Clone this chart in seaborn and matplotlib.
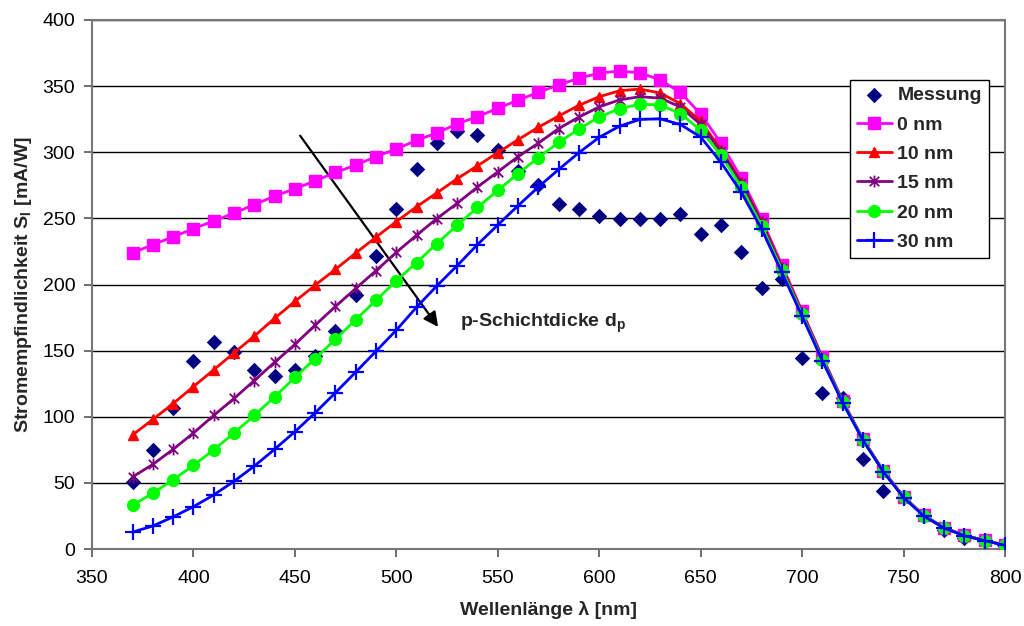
import matplotlib
matplotlib.use("Agg")
import matplotlib.pyplot as plt
from matplotlib.path import Path
import pandas as pd
import seaborn as sns

# Wavelength grid [nm]
wavelength = [370, 380, 390, 400, 410, 420, 430, 440, 450, 460, 470,
              480, 490, 500, 510, 520, 530, 540, 550, 560, 570, 580,
              590, 600, 610, 620, 630, 640, 650, 660, 670, 680, 690,
              700, 710, 720, 730, 740, 750, 760, 770, 780, 790, 800]

# Measured spectral responsivity [mA/W]
messung = [50.4, 74.7, 106.6, 142.0, 156.8, 148.8, 135.0, 131.0, 135.5, 146.3, 165.0,
           191.8, 221.7, 257.0, 287.7, 306.9, 315.9, 312.8, 301.8, 286.0, 274.9, 260.9,
           257.0, 251.9, 249.4, 249.9, 249.9, 253.2, 238.3, 244.9, 224.9, 197.4, 204.4,
           144.3, 117.9, 114.4, 68.3, 44.0, 39.0, 25.0, 14.0, 8.5, 6.0, 2.5]

# Simulated responsivity for different p-layer thicknesses
sim_0nm = [223.8, 230.2, 236.0, 242.2, 248.0, 254.0, 260.4, 266.8, 272.4, 278.3, 284.7,
           290.3, 296.7, 302.5, 309.0, 314.6, 321.5, 326.9, 333.2, 339.4, 345.3, 350.9,
           356.0, 359.8, 361.4, 360.1, 354.7, 345.3, 328.8, 307.0, 280.6, 249.3, 215.0,
           179.8, 145.2, 112.0, 83.0, 59.2, 39.6, 25.5, 16.1, 10.3, 6.5, 3.0]
sim_10nm = [86.2, 98.0, 110.0, 122.8, 135.5, 148.3, 161.0, 174.4, 187.2, 199.5, 211.5,
            223.8, 235.8, 247.6, 258.8, 269.3, 280.0, 289.8, 299.7, 309.5, 318.9, 327.4,
            335.5, 342.0, 346.5, 347.8, 344.8, 336.8, 323.5, 302.0, 277.7, 247.8, 213.5,
            179.0, 144.5, 111.8, 82.8, 59.0, 39.4, 25.4, 16.0, 10.2, 6.5, 2.9]
sim_15nm = [54.5, 64.0, 75.4, 87.7, 101.0, 113.8, 127.4, 141.2, 154.7, 169.3, 183.4,
            197.0, 210.5, 224.3, 237.3, 249.9, 261.4, 273.7, 285.2, 296.7, 306.9, 317.9,
            326.6, 334.3, 339.6, 342.0, 340.9, 334.3, 321.0, 300.6, 277.0, 247.2, 212.6,
            178.5, 144.0, 111.6, 82.7, 58.9, 39.3, 25.3, 16.0, 10.2, 6.4, 2.9]
sim_20nm = [33.2, 42.2, 52.4, 63.2, 75.0, 87.7, 101.0, 115.0, 129.7, 144.0, 158.6,
            173.4, 188.0, 202.8, 216.6, 231.0, 244.8, 258.3, 271.1, 283.9, 295.9, 307.4,
            317.6, 326.6, 333.0, 336.3, 335.8, 329.2, 316.7, 297.7, 273.6, 244.3, 211.1,
            177.4, 143.1, 111.4, 82.6, 58.7, 39.1, 25.1, 15.9, 10.1, 6.4, 2.9]
sim_30nm = [12.8, 17.4, 24.3, 32.0, 40.9, 51.2, 62.7, 75.4, 88.7, 103.0, 118.2,
            133.8, 149.6, 165.5, 182.9, 199.0, 214.3, 230.2, 245.0, 259.6, 273.7, 287.0,
            299.7, 311.3, 319.7, 324.8, 325.3, 321.0, 311.5, 292.4, 269.8, 242.0, 209.1,
            176.0, 142.2, 110.6, 82.2, 58.4, 38.9, 24.9, 15.8, 10.0, 6.3, 2.8]

x_ticks = [350, 400, 450, 500, 550, 600, 650, 700, 750, 800]
y_ticks = [0, 50, 100, 150, 200, 250, 300, 350, 400]

sns.set_theme(style="white")
plt.rcParams["font.family"] = ["Liberation Sans", "DejaVu Sans"]
plt.rcParams["mathtext.fontset"] = "custom"
plt.rcParams["mathtext.rm"] = "Liberation Sans"
plt.rcParams["mathtext.bf"] = "Liberation Sans:bold"
plt.rcParams["mathtext.it"] = "Liberation Sans:italic"

# Excel-style star marker: an "x" with a vertical bar
star = Path([(-1, -1), (1, 1), (-1, 1), (1, -1), (0, -1.25), (0, 1.25)],
            [Path.MOVETO, Path.LINETO, Path.MOVETO, Path.LINETO, Path.MOVETO, Path.LINETO])

fig = plt.figure(figsize=(10.24, 6.26), dpi=100)
ax = fig.add_axes([92 / 1024, 77 / 626, 913 / 1024, 529 / 626])

df = pd.DataFrame({"wl": wavelength, "Messung": messung, "0 nm": sim_0nm,
                   "10 nm": sim_10nm, "15 nm": sim_15nm, "20 nm": sim_20nm,
                   "30 nm": sim_30nm})

sns.scatterplot(data=df, x="wl", y="Messung", ax=ax, marker="D", s=62,
                color="#000080", edgecolor="#000080", linewidth=0, label="Messung",
                zorder=3)

series_style = [
    ("0 nm", "#FF00FF", "s", 8.0, 1.0),
    ("10 nm", "#FF0000", "^", 7.5, 1.0),
    ("15 nm", "#800080", star, 8.5, 1.3),
    ("20 nm", "#00FF00", "o", 8.5, 1.0),
    ("30 nm", "#0000FF", "+", 11.0, 1.6),
]
for i, (name, col, mk, ms, mew) in enumerate(series_style):
    sns.lineplot(data=df, x="wl", y=name, ax=ax, color=col, marker=mk,
                 markersize=ms, markeredgewidth=mew, markeredgecolor=col,
                 markerfacecolor=col, linewidth=2.0, label=name, zorder=4 + i)

ax.set_xlim(350, 800)
ax.set_ylim(0, 400)
ax.set_xticks(x_ticks)
ax.set_yticks(y_ticks)
ax.tick_params(axis="both", which="both", direction="out", length=6, width=1.2,
               color="#555555", labelsize=14, labelcolor="black", pad=6)
ax.tick_params(axis="x", bottom=True, pad=9)
ax.tick_params(axis="y", left=True)
ax.yaxis.grid(True, color="black", linewidth=1.0)
ax.xaxis.grid(False)
ax.set_axisbelow(True)
for side in ["left", "bottom", "right", "top"]:
    ax.spines[side].set_visible(True)
    ax.spines[side].set_color("#777777")
    ax.spines[side].set_linewidth(1.5)

ax.set_xlabel("Wellenlänge λ [nm]", fontsize=14, fontweight="bold", labelpad=10)
ax.set_ylabel(r"Stromempfindlichkeit S$_\mathbf{I}$ [mA/W]", fontsize=14,
              fontweight="bold", labelpad=6)

# Thickness trend arrow and its label
ax.annotate("", xy=(520.6, 167.9), xytext=(452.6, 312.5),
            arrowprops=dict(arrowstyle="-|>", color="black", lw=1.6,
                            mutation_scale=22, shrinkA=0, shrinkB=0))
ax.text(531.6, 170.5, r"p-Schichtdicke d$_\mathbf{p}$", fontsize=14,
        fontweight="bold", va="center", ha="left")

handles, labels = ax.get_legend_handles_labels()
leg = ax.legend(handles, labels, loc="upper left", bbox_to_anchor=(0.830, 0.8866),
                borderaxespad=0, frameon=True, fancybox=False, framealpha=1,
                edgecolor="black", prop={"weight": "bold", "size": 14},
                handlelength=1.8, handletextpad=0.3, labelspacing=0.6,
                borderpad=0.35)
leg.get_frame().set_linewidth(1.0)

fig.savefig("out.png", dpi=100)
